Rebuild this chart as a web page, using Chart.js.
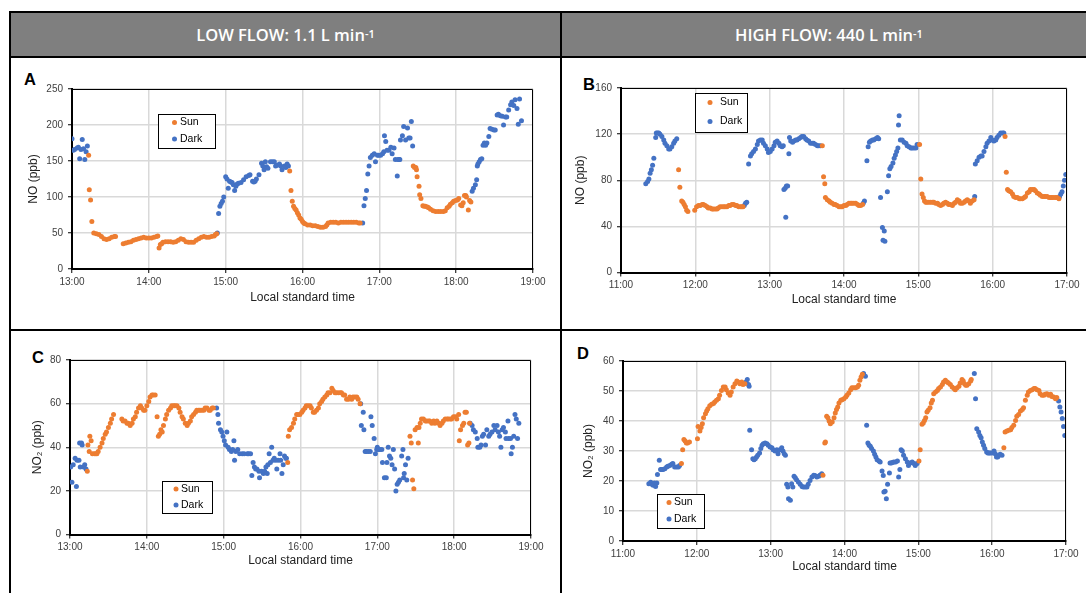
<!DOCTYPE html>
<html><head><meta charset="utf-8">
<script src="https://cdn.jsdelivr.net/npm/chart.js@4.4.0/dist/chart.umd.min.js"></script>
<style>
html,body{margin:0;padding:0;background:#fff}
body{width:1086px;height:593px;position:relative;overflow:hidden;font-family:'Liberation Sans',Arial,sans-serif}
.hdr{position:absolute;top:11px;height:47px;background:#7f7f7f;color:#fff;font:600 16.5px 'Open Sans',sans-serif;display:flex;align-items:center;justify-content:center;box-sizing:border-box;border:2px solid #000}
.hdr sup{font-size:11px;line-height:0;position:relative;top:-1px}
.ln{position:absolute;background:#000;z-index:5}
.lt{position:absolute;font:bold 16.5px 'Liberation Sans',Arial,sans-serif;line-height:16px;color:#000}
canvas{position:absolute}
</style></head>
<body>
<div class="hdr" style="left:9px;width:553px">LOW FLOW: 1.1 L min<sup>-1</sup></div>
<div class="hdr" style="left:560px;width:538px">HIGH FLOW: 440 L min<sup>-1</sup></div>
<div class="ln" style="left:9px;top:11px;width:2px;height:582px"></div>
<div class="ln" style="left:560px;top:11px;width:2px;height:582px"></div>
<div class="ln" style="left:9px;top:329px;width:1077px;height:2px"></div>
<div class="lt" style="left:24px;top:71px">A</div>
<div class="lt" style="left:583px;top:76px">B</div>
<div class="lt" style="left:32px;top:349px">C</div>
<div class="lt" style="left:577px;top:345px">D</div>
<canvas id="cA" width="548" height="270" style="left:11px;top:59px"></canvas>
<canvas id="cB" width="524" height="270" style="left:562px;top:59px"></canvas>
<canvas id="cC" width="548" height="262" style="left:11px;top:331px"></canvas>
<canvas id="cD" width="524" height="262" style="left:562px;top:331px"></canvas>
<script>
// ---- data: [time in minutes after midnight (local standard time), concentration ppb] ----
const lowFlowHours = ['13:00','14:00','15:00','16:00','17:00','18:00','19:00'];
const highFlowHours = ['11:00','12:00','13:00','14:00','15:00','16:00','17:00'];
const seriesNames = ['Sun', 'Dark'];

// Panel A: NO, low flow
const A_sun = [[793,158],[793.5,110],[794.5,96],[795.5,66],[797,50],[799,49],[801,48],[803,45],[805,42],[807,41],[809,42],[811,44],[813,45],[814,45],
[820,35],[822,36],[824,37],[826,38],[828,40],[830,41],[832,42],[834,43],[836,44],[838,43],[840,43],[842,43],[844,44],[846,45],[847,46],
[848,29],[849,34],[850,35],[851,37],[853,38],[855,38],[857,38],[859,37],[861,38],[863,40],[865,42],[867,41],[869,38],[871,37],[873,37],[875,37],[877,40],[879,42],[881,44],[883,45],[885,44],[887,44],[889,45],[891,46],[892,48],[893,49],
[950,136],[951,109],[952,94],[953,87],[954,84],[955,82],[956,78],[957,75],[958,71],[959,69],[960,66],[961,64],[962,63],[964,61],[966,61],[968,60],[970,60],[972,59],[974,58],[976,58],[978,59],[979,61],[980,64],[982,65],[984,65],[986,65],[988,64],[990,65],[992,65],[994,65],[996,65],[998,65],[1000,65],[1002,65],[1004,64],[1005,64],
[1046.5,143],[1047.5,141],[1048.5,141],[1049,138],[1049.5,128],[1051,115],[1051.5,103],[1052.5,98],[1054,88],[1055,87],[1056,87],[1057.5,86],[1058.5,85],[1060,83],[1062,81],[1064,80],[1066,80],[1068,80],[1070,80],[1071.5,81],[1073,85],[1074.5,87],[1075.5,90],[1077,92],[1078,94],[1079.5,95],[1081,96],[1082,98],[1083.5,89],[1084.5,88],[1085.5,92],[1086.5,102],[1087.5,102],[1088,100],[1089.5,82],[1090.5,95],[1091.5,93]];
const A_dark = [[780,181],[781,165],[782,166],[784,168],[785,169],[786,153],[787,166],[788,180],[789,167],[790,152],[791,163],[792,171],
[893.5,50],[894.5,77],[895.5,87],[896.5,91],[897.5,94],[898.5,100],[900,128],[901,125],[902,112],[903,122],[904,121],[905,120],[906,117],[907,109],[908,115],[909,118],[910,119],[912,120],[914,124],[916,128],[918,130],[919,131],[921,122],[922,121],[923,122],[924,125],[926,131],[928,147],[929,143],[930,138],[931,149],[932,142],[933,140],[935,149],[936.5,149],[938,149],[939,143],[940,144],[942,146],[943,143],[944,138],[946,143],[947,141],[948,146],[949,143],
[1007,64],[1008,88],[1009,98],[1010,109],[1011,132],[1012,143],[1013,155],[1014.5,158],[1016,160],[1017,149],[1018.5,158],[1019.5,158],[1021,158],[1022.5,160],[1023.5,163],[1024,185],[1025,177],[1026,165],[1027.5,165],[1029,169],[1030,160],[1031.5,168],[1032.5,152],[1034,129],[1034.5,152],[1035.5,152],[1036,152],[1036.5,179],[1038,185],[1039,198],[1040.5,179],[1042,196],[1043,182],[1044,182],[1045,205],[1046,171],
[1092.5,108],[1093.5,112],[1095,117],[1096,124],[1096.5,143],[1097,146],[1098,149],[1099,152],[1100,153],[1101,172],[1102,175],[1103,172],[1104,175],[1105.5,184],[1106.5,195],[1108,194],[1109.5,193],[1110.5,193],[1112,214],[1113,215],[1114.5,213],[1116,212],[1117,200],[1118.5,211],[1119.5,211],[1121,221],[1122.5,228],[1123.5,232],[1125,227],[1126,235],[1127.5,223],[1128.5,201],[1129.5,236],[1131,206]];

// Panel B: NO, high flow
const B_sun = [[706.5,89],[707.5,74],[709,62],[710,61],[711,59],[712,57],[713,54],[714,53],[719.5,54],[721,57],[722.5,58],[724,58],[725.5,59],[726.5,59],[728,58],[729.5,57],[730.5,56],[732,56],[733.5,55],[734.5,55],[736,55],[737.5,55],[738.5,56],[740,57],[741.5,57],[743,57],[744,57],[745.5,57],[747,58],[748,58],[749.5,59],[751,59],[752.5,58],[753.5,58],[755,57],[756.5,57],[757.5,57],[758.5,57],
[822.5,110],[823.5,83],[824.5,77],[825,65],[826.5,63],[828,62],[829,61],[830.5,60],[832,59],[833,59],[834.5,58],[836,57],[837.5,57],[838.5,57],[840,58],[841.5,58],[842.5,59],[844,60],[845.5,60],[846.5,60],[848,60],[849.5,60],[851,59],[852,58],[853.5,58],[855,59],
[901,111],[902,81],[903,68],[904,65],[905,62],[906,61],[907,61],[908.5,61],[910,61],[911.5,61],[912.5,61],[914,60],[915.5,60],[916.5,59],[918,58],[919.5,59],[920.5,60],[922,61],[923.5,60],[924.5,59],[926,59],[927.5,58],[929,60],[930,61],[931.5,63],[933,62],[934,60],[935.5,60],[937,61],[938,62],[939.5,63],[941,62],[942,60],[943.5,62],[945,63],
[970,118],[971,87],[972,72],[973,71],[974.5,70],[976,68],[977,66],[978.5,65],[980,65],[981.5,64],[982.5,64],[984,64],[985.5,65],[986.5,66],[988,69],[989.5,70],[990.5,72],[992,72],[993.5,72],[994.5,71],[996,69],[997.5,68],[998.5,67],[1000,66],[1001.5,66],[1002.5,66],[1004,66],[1005.5,65],[1007,65],[1008,65],[1009.5,65],[1011,65],[1012,65],[1013.5,64]];
const B_dark = [[680,77],[681.5,79],[682.5,81],[683.5,86],[684.5,89],[685.5,93],[686.5,99],[688,117],[688.5,121],[689.5,121],[690.5,121],[691.5,120],[693,118],[694.5,115],[695.5,112],[697,110],[698.5,107],[699.5,107],[701,109],[702.5,112],[703.5,114],[705,116],
[759.5,58],[760.5,60],[761.5,61],[763,94],[764.5,101],[765.5,103],[767,105],[768.5,107],[770,111],[771,114],[772.5,115],[774,115],[775,112],[776.5,110],[778,107],[779,104],[780.5,105],[782,107],[783.5,110],[784.5,113],[786,114],[787.5,112],[788.5,110],[790,109],[791,110],[791.5,72],[792.5,73],[793,48],[793.5,75],[794.5,75],[795.5,103],[796,117],[797,114],[798.5,113],[799.5,114],[801,115],[802,115],[803.5,116],[805,117],[806,118],[807.5,118],[809,116],[810,115],[811.5,114],[813,112],[814.5,112],[815.5,112],[817,111],[818.5,110],[819.5,110],[821,110],
[855.5,60],[856.5,62],[858.5,97],[859.5,109],[860.5,113],[861.5,114],[863,115],[864,115],[865.5,116],[867,117],[868,116],[869.5,65],[871,39],[871.5,28],[872.5,36],[873,27],[875,70],[876,84],[877,90],[878,92],[879.5,95],[880.5,99],[881.5,102],[882.5,105],[883.5,108],[884,128],[884.5,136],[885.5,115],[887,115],[888.5,113],[890,112],[891,110],[892.5,109],[894,108],[895,108],[896.5,108],[898,108],[899,111],
[945.5,66],[946,94],[947.5,97],[949,100],[950.5,101],[951.5,101],[953,105],[954.5,109],[955.5,112],[957,114],[958.5,117],[959.5,115],[961,114],[962.5,115],[963.5,117],[965,119],[966.5,121],[968,121],[969,121],
[1014,66],[1015,68],[1016,70],[1017,75],[1018,80],[1019,85]];

// Panel C: NO2, low flow
const C_sun = [[793.5,29],[794,41],[795,38],[795.5,45],[796.5,43],[797.5,37],[799,37],[800,37],[801,37],[802,38],[803.5,40],[805,42],[806,44],[807.5,46],[808.5,47],[810,49],[811.5,51],[812.5,53],[814,55],
[820.5,53],[821.5,52],[823,52],[824.5,51],[825.5,51],[827,50],[828.5,51],[829.5,53],[831,54],[832,56],[833.5,58],[835,59],[836,58],[837.5,57],[838.5,57],[840,59],[841.5,61],[842.5,63],[844,64],[845,64],[846.5,64],[848,54],[849,45],[850,46],[851,48],[852,47],[853,50],[854.5,53],[855.5,55],[857,57],[858.5,58],[859.5,59],[861,59],[862,59],[863.5,59],[865,58],[866,56],[867.5,54],[868.5,53],[870,51],[871.5,50],[872.5,51],[874,52],[875,54],[876.5,55],[878,56],[879,57],[880.5,57],[881.5,57],[883,57],[884.5,57],[885.5,58],[887,58],[888.5,57],[889.5,57],[891,58],[892,58],
[950,33],[950.5,45],[951.5,48],[953,49],[954.5,51],[955.5,53],[957,55],[958,55],[959.5,55],[961,56],[962,57],[963.5,58],[964.5,59],[966,59],[967.5,59],[968.5,58],[970,56],[971,56],[972.5,57],[974,58],[975,60],[976.5,61],[977.5,62],[979,63],[980.5,64],[981.5,65],[983,65],[984.5,67],[985.5,66],[987,65],[988,65],[989.5,65],[991,65],[992,65],[993.5,64],[994.5,64],[996,62],[997.5,62],[998.5,63],[1000,62],[1001,63],[1002.5,63],[1004,63],[1005,62],[1006.5,60],
[1045.5,45],[1046.5,42],[1047.5,25],[1048.5,21],[1049.5,48],[1051,49],[1052,42],[1052.5,49],[1053.5,51],[1054.5,53],[1056,53],[1057.5,52],[1058.5,52],[1060,52],[1061,52],[1062.5,51],[1064,52],[1065,51],[1066.5,52],[1068,51],[1069,50],[1070.5,51],[1071.5,52],[1073,53],[1074.5,53],[1075.5,53],[1077,53],[1078,53],[1079.5,54],[1081,54],[1082,53],[1083.5,55],[1084,43],[1085,48],[1086.5,50],[1087.5,51],[1088.5,56],[1089.5,56],[1090.5,41],[1091.5,42],[1092,51]];
const C_dark = [[780.5,31],[781.5,24],[782.5,32],[784,35],[785,22],[785.5,34],[787,34],[787.5,42],[788,31],[789,42],[789.5,41],[790.5,31],[791.5,32],[792.5,30],
[894.5,58],[895.5,55],[896,51],[897.5,48],[898.5,47],[899.5,45],[900.5,43],[901.5,41],[902.5,47],[903.5,40],[904.5,39],[906,38],[907,39],[908,43],[908.5,34],[909.5,38],[911,39],[912.5,37],[914.5,37],[916,37],[918.5,37],[919.5,37],[921,37],[922,27],[923,33],[924,31],[925,30],[926,30],[927.5,29],[928,26],[929.5,29],[931,28],[932,29],[933,31],[934,28],[934.5,32],[935.5,37],[936.5,33],[937.5,40],[938.5,34],[939.5,35],[940.5,34],[941.5,30],[942.5,34],[944,37],[944.5,34],[945.5,28],[946.5,32],[947.5,36],[948.5,35],[949,35],
[1007,60],[1007.5,50],[1009,56],[1009.5,48],[1010.5,38],[1011.5,38],[1013,38],[1014.5,38],[1015,54],[1016,50],[1017.5,44],[1018.5,37],[1019.5,39],[1020,40],[1021,39],[1022,39],[1023.5,39],[1024,33],[1025.5,26],[1027,26],[1027.5,33],[1028.5,40],[1029.5,36],[1030.5,35],[1031.5,32],[1032.5,39],[1033.5,30],[1034.5,20],[1035.5,23],[1036.5,24],[1037.5,25],[1039,36],[1040,39],[1040.5,26],[1041,28],[1042,32],[1043,25],[1044,35],
[1092.5,51],[1094,50],[1095,48],[1096.5,47],[1098,44],[1098.5,40],[1100,40],[1101,41],[1102,45],[1103,46],[1104.5,41],[1105.5,48],[1107,45],[1108,46],[1109.5,47],[1111,50],[1112,48],[1113.5,50],[1114.5,47],[1115.5,45],[1116.5,40],[1117.5,48],[1118.5,49],[1120,47],[1120.5,44],[1122,52],[1122.5,44],[1124,44],[1124.5,37],[1125.5,40],[1126.5,45],[1127.5,55],[1128.5,53],[1129.5,44],[1130.5,51]];

// Panel D: NO2, high flow
const D_sun = [[707.5,25.8],[708.5,30.4],[709.5,33.8],[710.5,33.3],[711.5,32.7],[712.5,32.7],[714,33],
[720.5,34.1],[721,38.2],[722.5,36.7],[723.5,37.8],[724.5,39.1],[725.5,41.1],[727,42.4],[728,43.3],[729,44.1],[730.5,45.1],[732,45.6],[733.5,45.8],[734.5,46.3],[736,46.9],[737.5,47.4],[738.5,48.6],[740,50.2],[741.5,51.3],[743,51.3],[744,50.4],[745.5,49.3],[747,48.6],[748,49.7],[749.5,51.3],[751,52.4],[752.5,53.3],[753.5,53],[755,52.4],[756.5,53],[757.5,52.2],[759,52.4],
[822.5,21.9],[824,32.7],[824.5,33],[825.5,41.6],[826.5,41.1],[827.5,40],[828.5,39.1],[830,39.7],[831.5,41.1],[832.5,42.7],[833.5,43.8],[834.5,44.7],[835.5,46],[837,46.9],[838,47.1],[839.5,47.4],[841,48],[842,48.6],[843.5,49.3],[845,50.4],[846,51.1],[847.5,51.1],[849,51.1],[850.5,51.3],[851.5,51.9],[852.5,53.6],[853.5,54.7],[854.5,55.6],
[900.5,26.7],[901.5,30.4],[903,38.9],[904,39.3],[905,40.2],[906,41.1],[907,43],[908,43.6],[909.5,44.4],[910.5,46],[911.5,46.9],[912.5,49.1],[914,49.7],[915.5,50.2],[916.5,50.8],[918,51.3],[919.5,52.2],[920.5,53],[922,53.6],[923.5,53],[924.5,52.7],[926,52.2],[927.5,51.3],[929,50.8],[930,50.4],[931.5,51.1],[933,51.6],[934,52.7],[935.5,53.8],[936.5,53.3],[937.5,52.4],[938.5,51.9],[939.5,51.9],[941,52.4],[942.5,53.3],[943,53.8],
[969.5,31.1],[970.5,36.3],[972,36.7],[973.5,36.9],[975,37.1],[976,37.8],[977.5,38.6],[979,40.2],[980,41.6],[981.5,42.2],[983,43.3],[984.5,43.8],[985.5,44.4],[987,46.9],[988.5,48.6],[989.5,49.7],[991,50.2],[992.5,50.4],[994,50.8],[995,50.8],[996.5,50.4],[998,50.2],[999,49.1],[1000.5,48.6],[1002,48.6],[1003,48.9],[1004.5,49.1],[1006,48.6],[1007.5,48.9],[1008.5,48.2],[1010,48],[1011.5,47.4],[1012.5,47.8]];
const D_dark = [[681,19.1],[682.5,19.6],[683.5,18.9],[684.5,18.6],[685.5,19.3],[686.5,18.2],[687.5,19.3],[688,22.2],[689.5,26.9],[690.5,23.8],[691.5,23.8],[692.5,23.8],[694,24.1],[695.5,24.7],[696.5,24.9],[698,25.2],[699.5,25.6],[700.5,25.8],[702,24.7],[703.5,24.7],[705,24.7],[706,25.2],
[760,53],[761,53.8],[762,52.2],[762.5,51.6],[763,36.9],[764.5,30.4],[765.5,27.4],[766.5,27.1],[767.5,27.4],[768.5,28],[769.5,28.6],[771,29.3],[772,30.8],[773,31.9],[774,32.4],[775.5,32.7],[777,32.4],[778,31.9],[779.5,31.3],[781,31.1],[782,30.4],[783.5,30],[785,30.4],[786,29.1],[787.5,30.4],[789,31.1],[790,30],[791,29.1],[792,28.6],[793,18.9],[794,18],[794.5,14.1],[796,13.6],[797,19.1],[798,18],[799,21.6],[800,21.1],[801,20.4],[802.5,19.7],[804,18.9],[805.5,18.2],[806.5,18],[808,18],[809.5,18],[810.5,18.9],[812,20.2],[813.5,21.3],[815,21.9],[816,21.8],[817.5,21.3],[819,21.6],[820,21.9],[821.5,22.4],
[855.5,55.8],[857,54.9],[858,38.6],[859,32.7],[860,31.9],[861,31.6],[862,30.8],[863.5,30],[864.5,28.9],[865.5,28],[866.5,27.1],[868,26.7],[869,26.3],[870.5,23.3],[871.5,21.8],[872,16.3],[873,16.6],[874,14.1],[875,18.9],[876.5,22.7],[877,26],[878,26],[879,26.2],[880,26.3],[881.5,26.3],[883,26.7],[884,21.3],[885,23.8],[886,30.4],[887,30],[888,28.6],[889.5,27.4],[891,26.3],[892,25.2],[893.5,26],[895,26.3],[896.5,25.8],[897.5,25.2],[899,25.8],
[945.5,55.8],[946.5,47.4],[947.5,37.4],[949,36.3],[950,35.2],[951,34.4],[952,33],[953,31.9],[954,30.8],[955.5,29.7],[956.5,29.3],[957.5,29.3],[958.5,29.3],[960,29.3],[961.5,30],[962.5,29.1],[963.5,28],[964.5,28],[965.5,28.6],[966.5,28.9],[968,28.6],
[1014,46.7],[1015,44.7],[1016,43],[1017,40.8],[1018,38.2],[1019,35.2]];

// ---- styling / layout ----
const ORANGE = '#ED7D31', BLUE = '#4472C4';
const FONT = "'Liberation Sans', Arial, sans-serif";
Chart.defaults.font.family = FONT;

const frameLegend = {
  id: 'frameLegend',
  afterDraw(chart, args, o) {
    const ctx = chart.ctx, a = chart.chartArea;
    ctx.save();
    ctx.strokeStyle = '#000'; ctx.lineWidth = 1;
    ctx.beginPath();
    ctx.moveTo(a.left, a.top + 0.5); ctx.lineTo(a.right - 0.5, a.top + 0.5); ctx.lineTo(a.right - 0.5, a.bottom);
    ctx.stroke();
    const b = o.box;
    const x = b.x - o.ox, y = b.y - o.oy;
    ctx.fillStyle = '#fff';
    ctx.fillRect(x, y, b.w, b.h);
    ctx.strokeRect(x + 0.5, y + 0.5, b.w - 1, b.h - 1);
    ctx.font = '10.5px ' + FONT;
    ctx.textBaseline = 'middle';
    ctx.textAlign = 'left';
    chart.data.datasets.forEach((ds, i) => {
      const ry = b.rows[i] - o.oy;
      ctx.fillStyle = ds.backgroundColor;
      ctx.beginPath(); ctx.arc(b.dot - o.ox, ry, 2.5, 0, Math.PI * 2); ctx.fill();
      ctx.fillStyle = '#000';
      ctx.fillText(ds.label, b.text - o.ox, ry);
    });
    ctx.restore();
  }
};

function build(id, sun, dark, c) {
  const cv = document.getElementById(id);
  const ox = parseFloat(cv.style.left), oy = parseFloat(cv.style.top);
  const pts = arr => arr.map(p => ({x: p[0], y: p[1]}));
  const ds = (label, arr, color) => ({label, data: pts(arr), backgroundColor: color, borderColor: color,
    pointRadius: 2.5, pointBorderWidth: 0, pointHoverRadius: 2.5, showLine: false});
  new Chart(cv, {
    type: 'scatter',
    data: {datasets: [ds(seriesNames[0], sun, ORANGE), ds(seriesNames[1], dark, BLUE)]},
    options: {
      responsive: false, animation: false, events: [],
      layout: {padding: c.pad},
      plugins: {legend: {display: false}, tooltip: {enabled: false},
        frameLegend: {box: c.legend, ox, oy}},
      scales: {
        x: {type: 'linear', min: c.xmin, max: c.xmin + 360,
          ticks: {stepSize: 60, autoSkip: false, maxRotation: 0, padding: 3, color: '#404040', font: {size: 10},
            callback: v => c.hours[Math.round((v - c.xmin) / 60)]},
          grid: {color: '#d9d9d9', lineWidth: 1.5, tickColor: '#000', tickLength: 4, tickWidth: 1},
          border: {color: '#000', width: 2},
          title: {display: true, text: 'Local standard time', color: '#222', font: {size: 12}, padding: 0},
          afterFit: s => { s.height = c.H; }},
        y: {min: 0, max: c.ymax,
          ticks: {stepSize: c.ystep, padding: 5, color: '#404040', font: {size: 10}},
          grid: {color: '#d9d9d9', lineWidth: 1.5, tickColor: '#000', tickLength: 4, tickWidth: 1},
          border: {color: '#000', width: 2},
          title: {display: true, text: c.ytitle, color: '#222', font: {size: 12}, padding: 0},
          afterFit: s => { s.width = c.W; }}
      }
    },
    plugins: [frameLegend]
  });
}

build('cA', A_sun, A_dark, {xmin: 780, hours: lowFlowHours, ymax: 250, ystep: 50, ytitle: 'NO (ppb)',
  pad: {left: 15, right: 26, top: 30, bottom: 24}, W: 46, H: 36,
  legend: {x: 158, y: 114, w: 58, h: 35, dot: 174.5, text: 180, rows: [122.5, 139]}});
build('cB', B_sun, B_dark, {xmin: 660, hours: highFlowHours, ymax: 160, ystep: 40, ytitle: 'NO (ppb)',
  pad: {left: 11, right: 19, top: 29, bottom: 22.5}, W: 48, H: 34,
  legend: {x: 695, y: 93, w: 53, h: 40, dot: 710, text: 720, rows: [102.5, 121.5]}});
build('cC', C_sun, C_dark, {xmin: 780, hours: lowFlowHours, ymax: 80, ystep: 20, ytitle: 'NO\u2082 (ppb)',
  pad: {left: 19, right: 28, top: 29, bottom: 25.5}, W: 40, H: 33,
  legend: {x: 162, y: 481, w: 51, h: 33, dot: 176, text: 181, rows: [489, 505]}});
build('cD', D_sun, D_dark, {xmin: 660, hours: highFlowHours, ymax: 60, ystep: 10, ytitle: 'NO\u2082 (ppb)',
  pad: {left: 19, right: 20, top: 30, bottom: 19}, W: 42, H: 33,
  legend: {x: 657, y: 494, w: 48, h: 35, dot: 669, text: 674, rows: [502.5, 519]}});
</script>
</body></html>
